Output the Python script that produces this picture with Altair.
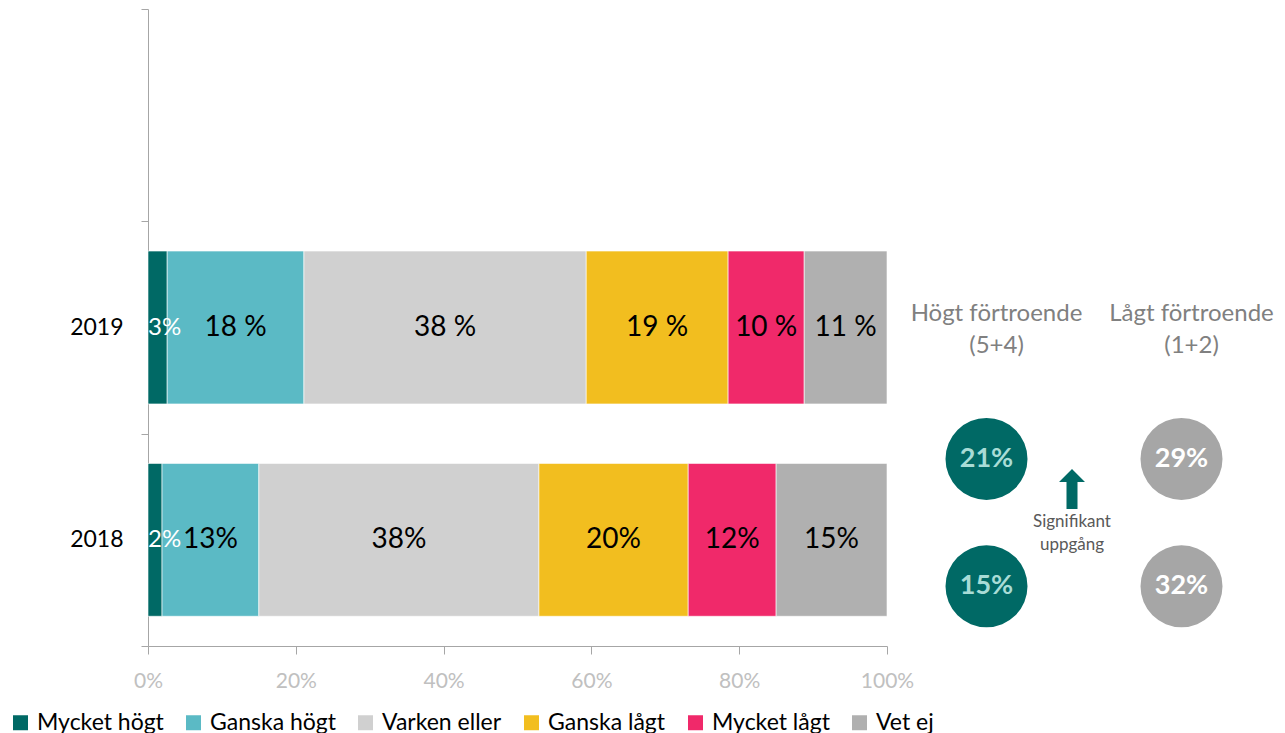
import altair as alt
import pandas as pd

# ---------------- data ----------------
years = ["2019", "2018"]
categories = ["Mycket högt", "Ganska högt", "Varken eller", "Ganska lågt", "Mycket lågt", "Vet ej"]
colors = ["#006965", "#5bbac5", "#d0d0d0", "#f2be1f", "#f0296a", "#b0b0b0"]
values_2019 = [2.6, 18.5, 38.2, 19.2, 10.3, 11.2]
values_2018 = [1.9, 13.1, 37.9, 20.2, 11.9, 15.0]
labels_2019 = ["3%", "18 %", "38 %", "19 %", "10 %", "11 %"]
labels_2018 = ["2%", "13%", "38%", "20%", "12%", "15%"]
x_ticks = [0, 20, 40, 60, 80, 100]

summary_keys = ["Högt", "Lågt"]
summary_headers = ["Högt förtroende\n(5+4)", "Lågt förtroende\n(1+2)"]
summary_2019 = ["21%", "29%"]
summary_2018 = ["15%", "32%"]
summary_fill = ["#006965", "#a6a6a6"]
summary_textcolor = ["#a8dcd6", "#ffffff"]
arrow_text = "Signifikant\nuppgång"

FONT = "Lato"

# ---------------- table for bars ----------------
rows = []
for year, vals, labs in [("2019", values_2019, labels_2019), ("2018", values_2018, labels_2018)]:
    start = 0.0
    for i, (cat, v, lab) in enumerate(zip(categories, vals, labs)):
        end = start + v
        rows.append({
            "year": year, "category": cat, "order": i, "start": start, "end": end,
            "mid": (start + end) / 2, "label": lab,
            "tcolor": "#ffffff" if i == 0 else "#000000",
        })
        start = end
bars_df = pd.DataFrame(rows)

y_scale = alt.Scale(domain=[" ", "2019", "2018"], paddingInner=0, paddingOuter=0)
x_scale = alt.Scale(domain=[0, 100], nice=False)

base = alt.Chart(bars_df)

bars = base.mark_bar(stroke="#ffffff", strokeWidth=0.6,
                     height=alt.RelativeBandSize(0.72)).encode(
    x=alt.X("start:Q", scale=x_scale,
            axis=alt.Axis(values=x_ticks, labelExpr="datum.value + '%'", title=None, grid=False,
                          labelFontSize=21, labelColor="#c0c0c0", labelFont=FONT,
                          labelFlush=False,
                          tickSize=8, tickColor="#a6a6a6", domainColor="#a6a6a6",
                          labelPadding=16)),
    x2="end:Q",
    y=alt.Y("year:N", scale=y_scale,
            axis=alt.Axis(title=None, labelFontSize=23, labelColor="#000000", labelFont=FONT,
                          tickSize=7, tickColor="#a6a6a6", domainColor="#a6a6a6",
                          labelPadding=18, minExtent=135, tickBand="extent")),
    color=alt.Color("category:N", scale=alt.Scale(domain=categories, range=colors),
                    legend=alt.Legend(title=None, orient="none", direction="horizontal",
                                      legendX=-139, legendY=702,
                                      symbolType="square", symbolSize=225, symbolStrokeWidth=0,
                                      labelFontSize=23, labelFont=FONT, labelColor="#000000",
                                      labelOffset=5, columnPadding=18)),
    order=alt.Order("order:Q"),
)

labels_main = base.transform_filter("datum.order > 0").mark_text(
    fontSize=28, font=FONT, baseline="middle", align="center"
).encode(
    x=alt.X("mid:Q", scale=x_scale),
    y=alt.Y("year:N", scale=y_scale),
    text="label:N",
    color=alt.Color("tcolor:N", scale=None),
)

labels_first = base.transform_filter("datum.order == 0").mark_text(
    fontSize=24, font=FONT, baseline="middle", align="left"
).encode(
    x=alt.X("start:Q", scale=x_scale),
    y=alt.Y("year:N", scale=y_scale),
    text="label:N",
    color=alt.Color("tcolor:N", scale=None),
)

left = alt.layer(bars, labels_main, labels_first).properties(width=739, height=637)

# ---------------- right side summary ----------------
circ_rows = []
for yr, vals in [("2019", summary_2019), ("2018", summary_2018)]:
    for k, v, f, t in zip(summary_keys, vals, summary_fill, summary_textcolor):
        circ_rows.append({"col": k, "row": yr, "value": v, "fill": f, "tcolor": t})
circ_df = pd.DataFrame(circ_rows)
head_df = pd.DataFrame({"col": summary_keys, "row": ["rubrik", "rubrik"], "text": summary_headers})
arrow_df = pd.DataFrame({"col": ["mitt"], "row": ["2019"], "text": [arrow_text]})

rx = alt.Scale(type="point", domain=["Högt", "mitt", "Lågt"], padding=1)
ry = alt.Scale(type="point", domain=["a", "b", "rubrik", "2019", "2018"], padding=0.5)
X = alt.X("col:N", scale=rx, axis=None)
Y = alt.Y("row:N", scale=ry, axis=None)

circles = alt.Chart(circ_df).mark_circle(size=6724, opacity=1, yOffset=4, xOffset=2).encode(
    x=X, y=Y, color=alt.Color("fill:N", scale=None))
circ_text = alt.Chart(circ_df).mark_text(fontSize=27, font=FONT, fontWeight="bold", yOffset=4,
                                         xOffset=2, baseline="middle").encode(
    x=X, y=Y, text="value:N", color=alt.Color("tcolor:N", scale=None))
headers = alt.Chart(head_df).mark_text(fontSize=24, font=FONT, color="#808080", lineBreak="\n",
                                       lineHeight=32, baseline="middle", xOffset=12,
                                       yOffset=-14).encode(
    x=X, y=Y, text="text:N")
arrow_path = "M -0.275 1 L -0.275 -0.35 L -0.65 -0.35 L 0 -1 L 0.65 -0.35 L 0.275 -0.35 L 0.275 1 Z"
arrow = alt.Chart(arrow_df).mark_point(shape=arrow_path, size=1600, filled=True, opacity=1,
                                       color="#006965", yOffset=34, xOffset=-10).encode(x=X, y=Y)
arrow_lbl = alt.Chart(arrow_df).mark_text(fontSize=17, font=FONT, color="#595959", lineBreak="\n",
                                          lineHeight=23, baseline="middle", yOffset=67,
                                          xOffset=-10).encode(x=X, y=Y, text="text:N")

right = alt.layer(circles, circ_text, headers, arrow, arrow_lbl).properties(width=390, height=637)

chart = alt.hconcat(left, right, spacing=0, bounds="flush").properties(
    padding={"left": 1, "top": -10, "right": 0, "bottom": 0}
).configure_view(stroke=None).configure_concat(spacing=0)

chart.save("out.html", embed_options={"renderer": "svg", "actions": False})
